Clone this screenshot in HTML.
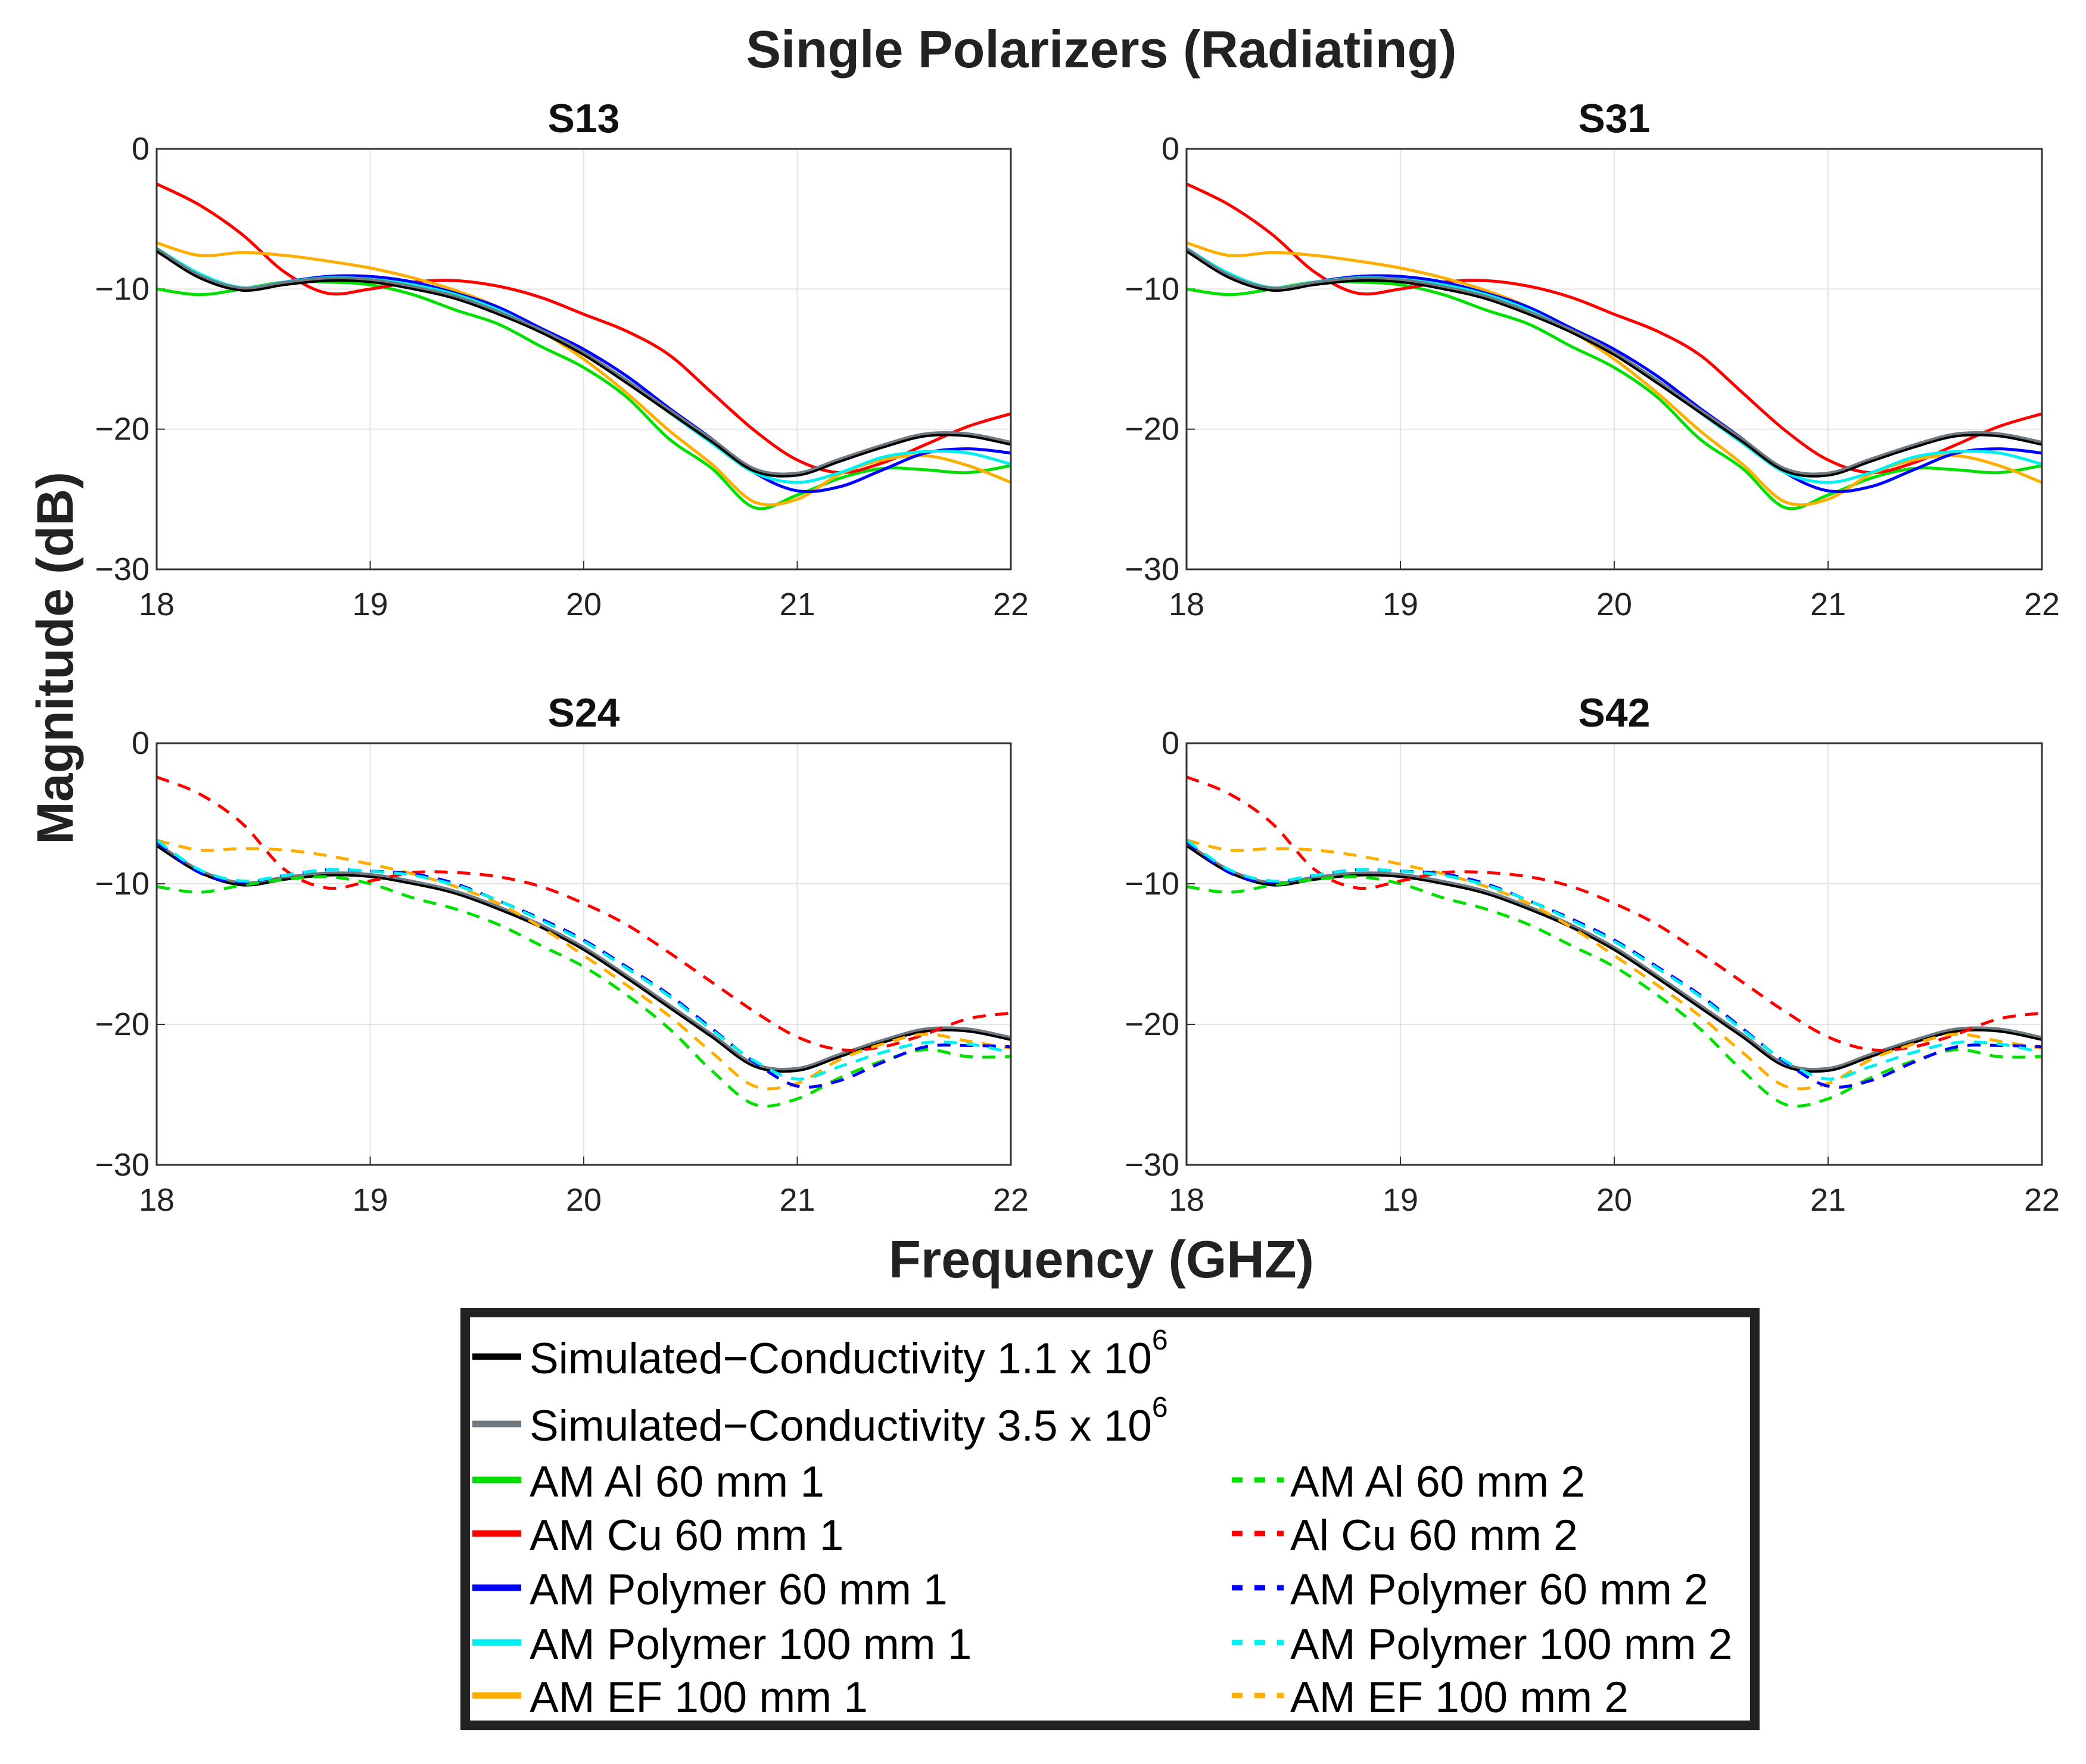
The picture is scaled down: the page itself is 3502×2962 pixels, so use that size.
<!DOCTYPE html>
<html><head><meta charset="utf-8">
<style>
html,body{margin:0;padding:0;background:#fff;}
svg{display:block;font-family:"Liberation Sans",Arial,sans-serif;}
</style></head>
<body>
<svg id="fig" width="3502" height="2962" viewBox="0 0 3502 2962" xmlns="http://www.w3.org/2000/svg">
<rect width="3502" height="2962" fill="#fff"/>
<text x="1849" y="113" text-anchor="middle" font-size="88" font-weight="bold" fill="#222">Single Polarizers (Radiating)</text>
<text transform="translate(122,1105) rotate(-90)" text-anchor="middle" font-size="86" font-weight="bold" fill="#222">Magnitude (dB)</text>
<text x="1849" y="2145" text-anchor="middle" font-size="88" font-weight="bold" fill="#222">Frequency (GHZ)</text>
<g id="panels"></g>
<g id="legend">
<rect x="781" y="2204" width="2165" height="693" fill="#fff" stroke="#222" stroke-width="16"/>
</g>
</svg>
<script>
const freqs=[18,18.2,18.4,18.6,18.8,19,19.2,19.4,19.6,19.8,20,20.2,20.4,20.6,20.8,21,21.2,21.4,21.6,21.8,22];
const xTicks=[18,19,20,21,22];
const yTicks=[0,-10,-20,-30];
const panelTitles=["S13","S31","S24","S42"];
const sim11=[-7.3,-9.2,-10.1,-9.7,-9.4,-9.5,-10.0,-10.7,-11.8,-13.1,-14.7,-16.7,-18.8,-20.9,-23.0,-23.3,-22.3,-21.3,-20.5,-20.5,-21.1];
const sim35=[-7.2,-9.1,-10.0,-9.6,-9.3,-9.4,-9.9,-10.6,-11.7,-13.0,-14.6,-16.6,-18.7,-20.8,-22.9,-23.2,-22.2,-21.2,-20.4,-20.4,-21.0];
const al1=[-10.0,-10.4,-10.0,-9.5,-9.5,-9.7,-10.4,-11.5,-12.5,-14.1,-15.6,-17.7,-20.7,-22.8,-25.6,-24.7,-23.5,-22.8,-22.9,-23.1,-22.6];
const cu1=[-2.5,-4.0,-6.1,-8.8,-10.3,-10.0,-9.5,-9.4,-9.8,-10.6,-11.8,-13.0,-14.7,-17.4,-20.1,-22.2,-23.1,-22.4,-21.1,-19.8,-18.9];
const poly60_1=[-7.3,-9.1,-10.0,-9.5,-9.1,-9.1,-9.5,-10.3,-11.3,-12.8,-14.3,-16.2,-18.5,-20.7,-23.1,-24.4,-24.1,-22.9,-21.7,-21.4,-21.7];
const poly100_1=[-7.1,-8.9,-9.9,-9.5,-9.2,-9.3,-9.7,-10.4,-11.5,-13.0,-14.6,-16.5,-18.8,-21.0,-23.1,-23.8,-23.1,-22.0,-21.6,-21.7,-22.5];
const ef1=[-6.7,-7.6,-7.4,-7.6,-8.0,-8.5,-9.2,-10.1,-11.3,-13.0,-15.0,-17.4,-20.1,-22.5,-25.2,-25.0,-23.2,-22.2,-21.9,-22.6,-23.8];
const al2=[-10.2,-10.6,-10.1,-9.7,-9.5,-10.0,-11.0,-11.8,-12.9,-14.4,-15.9,-17.9,-20.3,-23.3,-25.7,-25.3,-23.8,-22.6,-21.8,-22.3,-22.3];
const cu2=[-2.4,-3.6,-5.7,-9.0,-10.3,-9.8,-9.2,-9.2,-9.5,-10.2,-11.4,-12.9,-14.9,-17.0,-19.1,-20.9,-21.8,-21.6,-20.7,-19.6,-19.2];
const poly60_2=[-7.0,-9.2,-9.9,-9.4,-9.0,-9.1,-9.3,-10.0,-11.2,-12.5,-14.0,-15.9,-17.9,-20.3,-22.7,-24.4,-24.0,-22.7,-21.6,-21.5,-21.6];
const poly100_2=[-6.9,-9.0,-9.8,-9.4,-9.0,-9.1,-9.4,-10.1,-11.2,-12.6,-14.1,-16.0,-18.0,-20.4,-22.6,-23.9,-23.0,-22.0,-21.3,-21.4,-22.0];
const ef2=[-6.9,-7.6,-7.5,-7.6,-8.0,-8.6,-9.3,-10.2,-11.4,-13.1,-15.1,-17.2,-19.4,-22.0,-24.4,-24.2,-22.5,-21.4,-20.7,-21.2,-21.7];

const NS="http://www.w3.org/2000/svg";
function mk(tag,attrs,parent){const e=document.createElementNS(NS,tag);for(const k in attrs)e.setAttribute(k,attrs[k]);if(parent)parent.appendChild(e);return e;}
const panelBoxes=[[263,250,1697,956],[1992,250,3428,956],[263,1248,1697,1956],[1992,1248,3428,1956]];
const colors={sim11:"#000000",sim35:"#6e7a80",al:"#00e000",cu:"#ff0000",p60:"#0000ff",p100:"#00f0f0",ef:"#ffae00"};
function smooth(pts){let d="M"+pts[0][0]+","+pts[0][1];for(let i=0;i<pts.length-1;i++){const p0=pts[Math.max(0,i-1)],p1=pts[i],p2=pts[i+1],p3=pts[Math.min(pts.length-1,i+2)];const c1=[p1[0]+(p2[0]-p0[0])/6,p1[1]+(p2[1]-p0[1])/6];const c2=[p2[0]-(p3[0]-p1[0])/6,p2[1]-(p3[1]-p1[1])/6];d+=" C"+c1[0].toFixed(1)+","+c1[1].toFixed(1)+" "+c2[0].toFixed(1)+","+c2[1].toFixed(1)+" "+p2[0].toFixed(1)+","+p2[1].toFixed(1);}return d;}
const root=document.getElementById("panels");
panelBoxes.forEach((b,pi)=>{
  const [L,T,R,B]=b;
  const xs=f=>L+(f-18)/(22-18)*(R-L);
  const ys=v=>T+(0-v)/30*(B-T);
  const g=mk("g",{},root);
  
  
  const t=mk("text",{x:(L+R)/2,y:T-28,"text-anchor":"middle","font-size":68,"font-weight":"bold",fill:"#111"},g);
  t.textContent=panelTitles[pi];
  
  
  xTicks.forEach(v=>{
    const gl=mk("line",{x1:xs(v),x2:xs(v),y1:T,y2:B,stroke:"#e4e4e4","stroke-width":2},g);
    
    
    const tl=mk("text",{x:xs(v),y:B+77,"text-anchor":"middle","font-size":54,fill:"#222"},g);
    tl.textContent=v;
    
    
    mk("line",{x1:xs(v),x2:xs(v),y1:B,y2:B-14,stroke:"#333","stroke-width":2},g);
  });
  yTicks.forEach(v=>{
    const gl=mk("line",{x1:L,x2:R,y1:ys(v),y2:ys(v),stroke:"#e4e4e4","stroke-width":2},g);
    
    
    const tl=mk("text",{x:L-12,y:ys(v)+18,"text-anchor":"end","font-size":54,fill:"#222"},g);
    tl.textContent=v===0?"0":"\u2212"+Math.abs(v);
    
    
    mk("line",{x1:L,x2:L+14,y1:ys(v),y2:ys(v),stroke:"#333","stroke-width":2},g);
  });
  const dashed=pi>=2;
  const series=dashed?
    [[al2,colors.al],[cu2,colors.cu],[ef2,colors.ef],[poly60_2,colors.p60],[poly100_2,colors.p100]]:
    [[al1,colors.al],[cu1,colors.cu],[ef1,colors.ef],[poly60_1,colors.p60],[poly100_1,colors.p100]];
  const drawLine=(arr,col,w,dash,name)=>{
    const pts=freqs.map((f,i)=>[xs(f),ys(arr[i])]);
    const p=mk("path",{d:smooth(pts),fill:"none",stroke:col,"stroke-width":w,"stroke-linejoin":"round"},g);
    if(dash)p.setAttribute("stroke-dasharray","22 16");
    
    
  };
  const names=dashed?["al-60-2","cu-60-2","ef-100-2","polymer-60-2","polymer-100-2"]:["al-60-1","cu-60-1","ef-100-1","polymer-60-1","polymer-100-1"];
  if(dashed){drawLine(sim35,colors.sim35,8,false,"sim-3.5-line");drawLine(sim11,colors.sim11,4,false,"sim-1.1-line");}
  series.forEach((s,i)=>drawLine(s[0],s[1],5,dashed,names[i]+"-line"));
  if(!dashed){drawLine(sim35,colors.sim35,8,false,"sim-3.5-line");drawLine(sim11,colors.sim11,4,false,"sim-1.1-line");}
  const ax=mk("rect",{x:L,y:T,width:R-L,height:B-T,fill:"none",stroke:"#333","stroke-width":3},g);
  
  
});
// legend
const legLabels1=["Simulated\u2212Conductivity 1.1 x 10","Simulated\u2212Conductivity 3.5 x 10","AM Al 60 mm 1","AM Cu 60 mm 1","AM Polymer 60 mm 1","AM Polymer 100 mm 1","AM EF 100 mm 1"];
const legLabels2=["AM Al 60 mm 2","Al Cu 60 mm 2","AM Polymer 60 mm 2","AM Polymer 100 mm 2","AM EF 100 mm 2"];
const legRowsY=[2298,2411,2505,2595,2686,2778,2867];
const legColors1=[colors.sim11,colors.sim35,colors.al,colors.cu,colors.p60,colors.p100,colors.ef];
const legColors2=[colors.al,colors.cu,colors.p60,colors.p100,colors.ef];
const lg=document.getElementById("legend");
legLabels1.forEach((lab,i)=>{
  const y=legRowsY[i];
  const ln=mk("line",{x1:793,x2:875,y1:y-20,y2:y-20,stroke:legColors1[i],"stroke-width":11},lg);
  
  
  const t=mk("text",{x:889,y:y+8,"font-size":73,fill:"#000"},lg);
  t.textContent=lab;
  if(i<2){const s=mk("tspan",{dy:-40,"font-size":48},t);s.textContent="6";}
  
  
});
legLabels2.forEach((lab,i)=>{
  const y=legRowsY[i+2];
  const ln=mk("line",{x1:2068,x2:2155,y1:y-20,y2:y-20,stroke:legColors2[i],"stroke-width":9,"stroke-dasharray":"18 20"},lg);
  
  
  const t=mk("text",{x:2166,y:y+8,"font-size":73,fill:"#000"},lg);
  t.textContent=lab;
  
  
});
</script>
</body></html>
